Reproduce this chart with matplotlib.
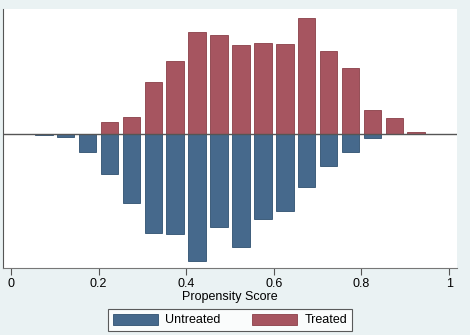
import matplotlib
matplotlib.use("Agg")
import matplotlib.pyplot as plt
import numpy as np

# bin centres of the propensity score histogram (bin width 0.05)
bin_centers = [0.075, 0.125, 0.175, 0.225, 0.275, 0.325, 0.375, 0.425, 0.475,
               0.525, 0.575, 0.625, 0.675, 0.725, 0.775, 0.825, 0.875, 0.925]

# heights (arbitrary density units)
treated = [0.0, 0.0, 0.3, 12.0, 17.3, 52.3, 73.0, 102.0, 98.7,
           89.0, 91.3, 89.7, 116.0, 83.0, 66.0, 24.3, 15.7, 2.3]
untreated = [1.3, 3.3, 18.3, 39.7, 68.7, 99.0, 100.0, 127.0, 93.0,
             113.0, 85.0, 76.7, 53.0, 32.0, 18.3, 3.7, 0.0, 0.0]

x_ticks = [0, 0.2, 0.4, 0.6, 0.8, 1]
x_tick_labels = ["0", "0.2", "0.4", "0.6", "0.8", "1"]

plt.rcParams["font.family"] = ["Liberation Sans", "DejaVu Sans"]

bg = "#EAF2F3"
red = "#A65560"
blue = "#46698C"

fig = plt.figure(figsize=(4.7, 3.35), dpi=100, facecolor=bg)
ax = fig.add_axes([3 / 470, 67 / 335, 454 / 470, 259 / 335])
ax.set_facecolor("white")

x = np.asarray(bin_centers)
ax.bar(x, -np.asarray(untreated), width=0.04, color=blue, edgecolor="#2F5070",
       linewidth=0.6, label="Untreated")
ax.bar(x, treated, width=0.04, color=red, edgecolor="#8A3F48",
       linewidth=0.6, label="Treated")
ax.axhline(0, color="#555555", linewidth=1.0)

ax.set_xlim(-0.018, 1.018)
ax.set_ylim(-134, 125)
ax.set_yticks([])
ax.set_xticks(x_ticks)
ax.set_xticklabels(x_tick_labels, fontsize=9)
ax.tick_params(axis="x", direction="out", length=5, width=0.8, color="#555555", pad=2)
ax.set_xlabel("Propensity Score", fontsize=9, labelpad=1)

for side in ["top", "right"]:
    ax.spines[side].set_visible(False)
ax.spines["left"].set_color("#555555")
ax.spines["bottom"].set_color("#777777")

handles, labels = ax.get_legend_handles_labels()
leg = fig.legend(handles, labels, loc="center", bbox_to_anchor=(230 / 470, 15 / 335),
                 ncol=2, fontsize=9, frameon=True, fancybox=False,
                 handlelength=3.6, handleheight=1.0, columnspacing=2.5,
                 handletextpad=0.6, borderpad=0.35)
leg.get_frame().set_edgecolor("#333333")
leg.get_frame().set_linewidth(0.8)
leg.get_frame().set_facecolor("white")

fig.savefig("out.png", dpi=100, facecolor=bg)
plt.close(fig)
